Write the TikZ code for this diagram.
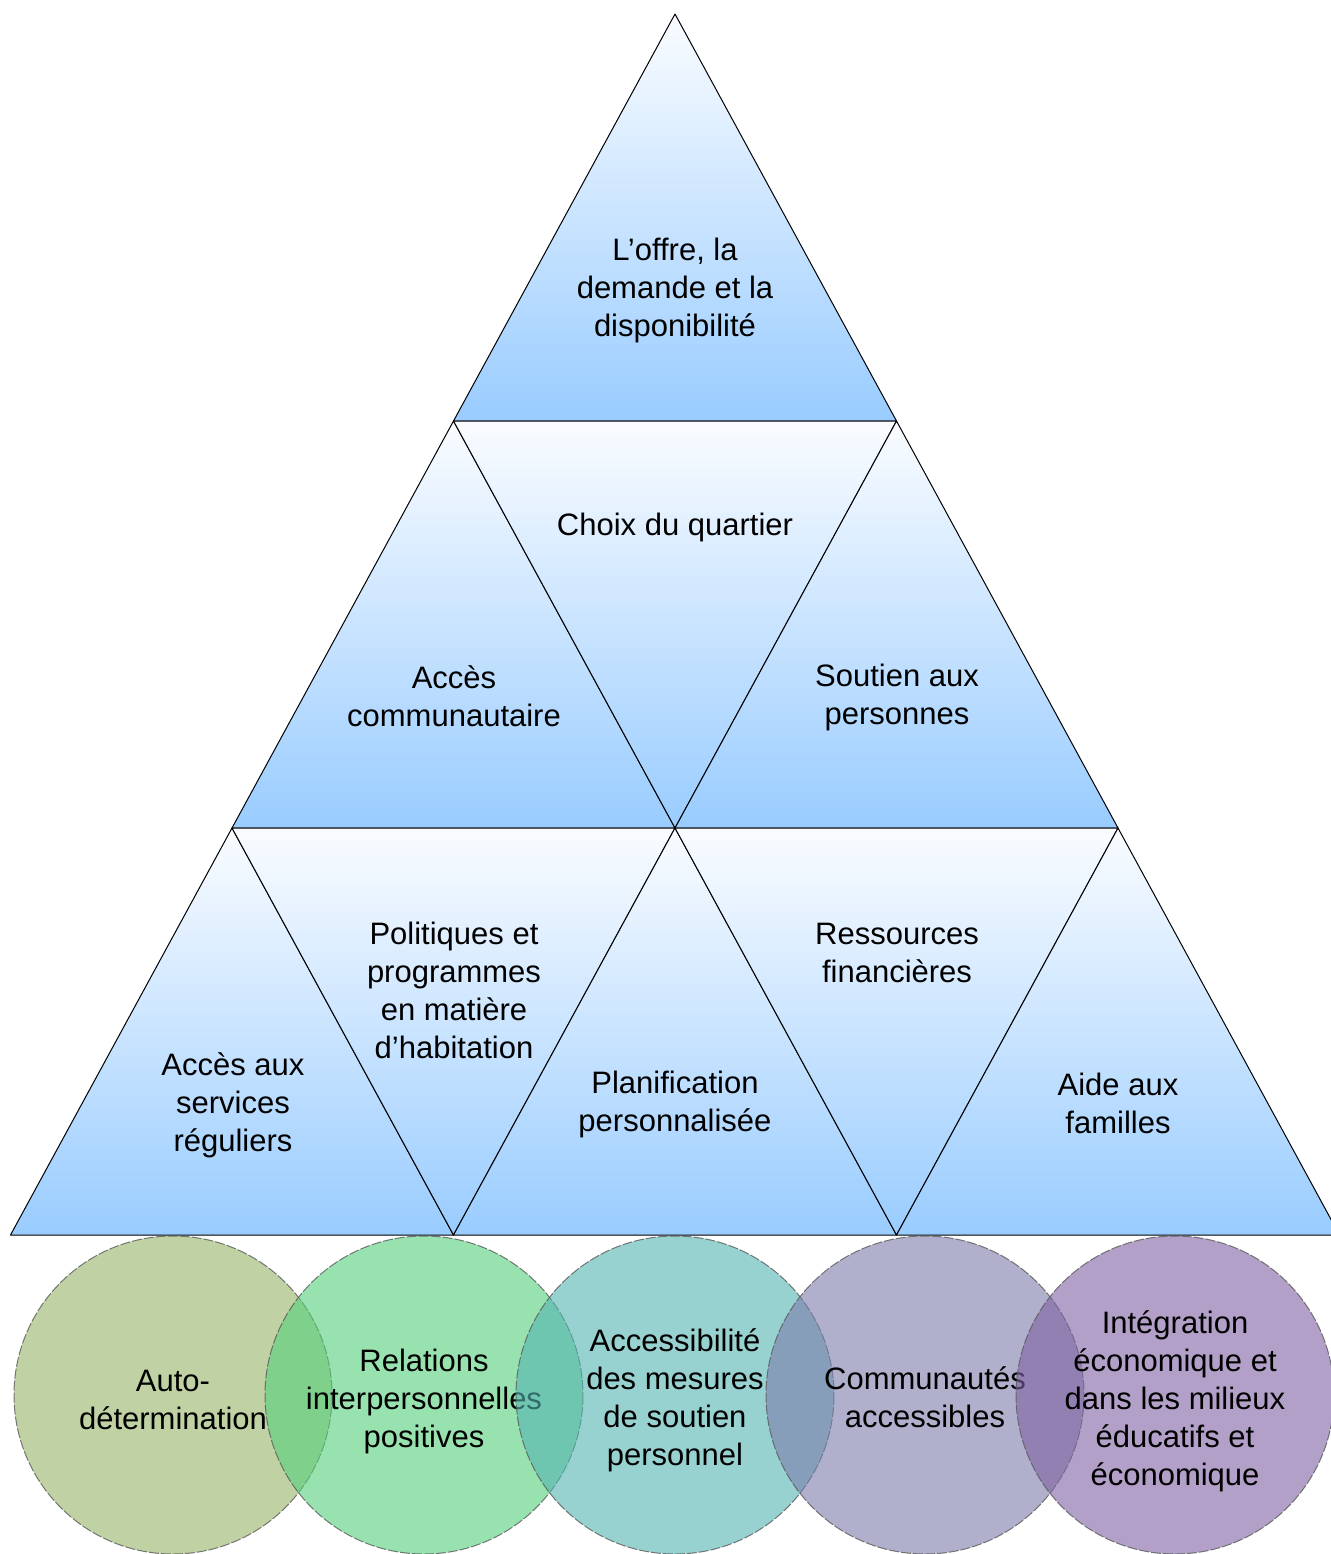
\documentclass[tikz,border=0pt]{standalone}
\usepackage{fontspec}
\setmainfont{Liberation Sans}
\definecolor{tritop}{RGB}{250,252,255}
\definecolor{tribot}{RGB}{153,204,255}
\definecolor{cA}{RGB}{150,180,102}
\definecolor{cB}{RGB}{83,207,123}
\definecolor{cC}{RGB}{83,180,177}
\definecolor{cD}{RGB}{123,123,170}
\definecolor{cE}{RGB}{127,97,163}
\begin{document}
\begin{tikzpicture}[x=0.5pt,y=-0.5pt,
  tri/.style={draw=black, line width=0.5pt, line join=round, top color=tritop, bottom color=tribot},
  lbl/.style={align=center, inner sep=0pt, font=\fontsize{15.5pt}{19pt}\selectfont},
  disc/.style={fill=#1, fill opacity=0.6, draw=gray!70!black, draw opacity=0.8, line width=0.5pt, dash pattern=on 5pt off 1pt}]
\clip (0,0) rectangle (1331,1554);
% coordinates
\coordinate (a0) at (675,14);
\coordinate (b1) at (453.5,421); \coordinate (b2) at (896.5,421);
\coordinate (c1) at (232,828); \coordinate (c2) at (675,828); \coordinate (c3) at (1118,828);
\coordinate (d1) at (10.5,1235); \coordinate (d2) at (453.5,1235); \coordinate (d3) at (896.5,1235); \coordinate (d4) at (1339.5,1235);
% row 1
\path[tri] (b1) -- (b2) -- (a0) -- cycle;
% row 2
\path[tri] (c1) -- (c2) -- (b1) -- cycle;
\path[tri] (b1) -- (b2) -- (c2) -- cycle;
\path[tri] (c2) -- (c3) -- (b2) -- cycle;
% row 3
\path[tri] (d1) -- (d2) -- (c1) -- cycle;
\path[tri] (c1) -- (c2) -- (d2) -- cycle;
\path[tri] (d2) -- (d3) -- (c2) -- cycle;
\path[tri] (c2) -- (c3) -- (d3) -- cycle;
\path[tri] (d3) -- (d4) -- (c3) -- cycle;
% triangle labels
\node[lbl] (t1) at (675,290) {L’offre, la\\demande et la\\disponibilité};
\node[lbl] (t2) at (675,527) {Choix du quartier};
\node[lbl] (t3) at (454,696) {Accès\\communautaire};
\node[lbl] (t4) at (897,697) {Soutien aux\\personnes};
\node[lbl] (t5) at (233,1105) {Accès aux\\services\\réguliers};
\node[lbl] (t6) at (454,990) {Politiques et\\programmes\\en matière\\d’habitation};
\node[lbl] (t7) at (675,1104) {Planification\\personnalisée};
\node[lbl] (t8) at (897,953) {Ressources\\financières};
\node[lbl] (t9) at (1118,1103) {Aide aux\\familles};
% circles
\path[disc=cA] (173,1395) circle[radius=159];
\node[lbl] (k1) at (173,1400) {Auto-\\détermination};
\path[disc=cB] (424,1395) circle[radius=159];
\node[lbl] (k2) at (424,1401) {Relations\\interpersonnelles\\positives};
\path[disc=cC] (675,1395) circle[radius=159];
\node[lbl] (k3) at (675,1400) {Accessibilité\\des mesures\\de soutien\\personnel};
\path[disc=cD] (925,1395) circle[radius=159];
\node[lbl] (k4) at (925,1397) {Communautés\\accessibles};
\path[disc=cE] (1175,1395) circle[radius=159];
\node[lbl] (k5) at (1175,1401) {Intégration\\économique et\\dans les milieux\\éducatifs et\\économique};
\end{tikzpicture}
\end{document}
